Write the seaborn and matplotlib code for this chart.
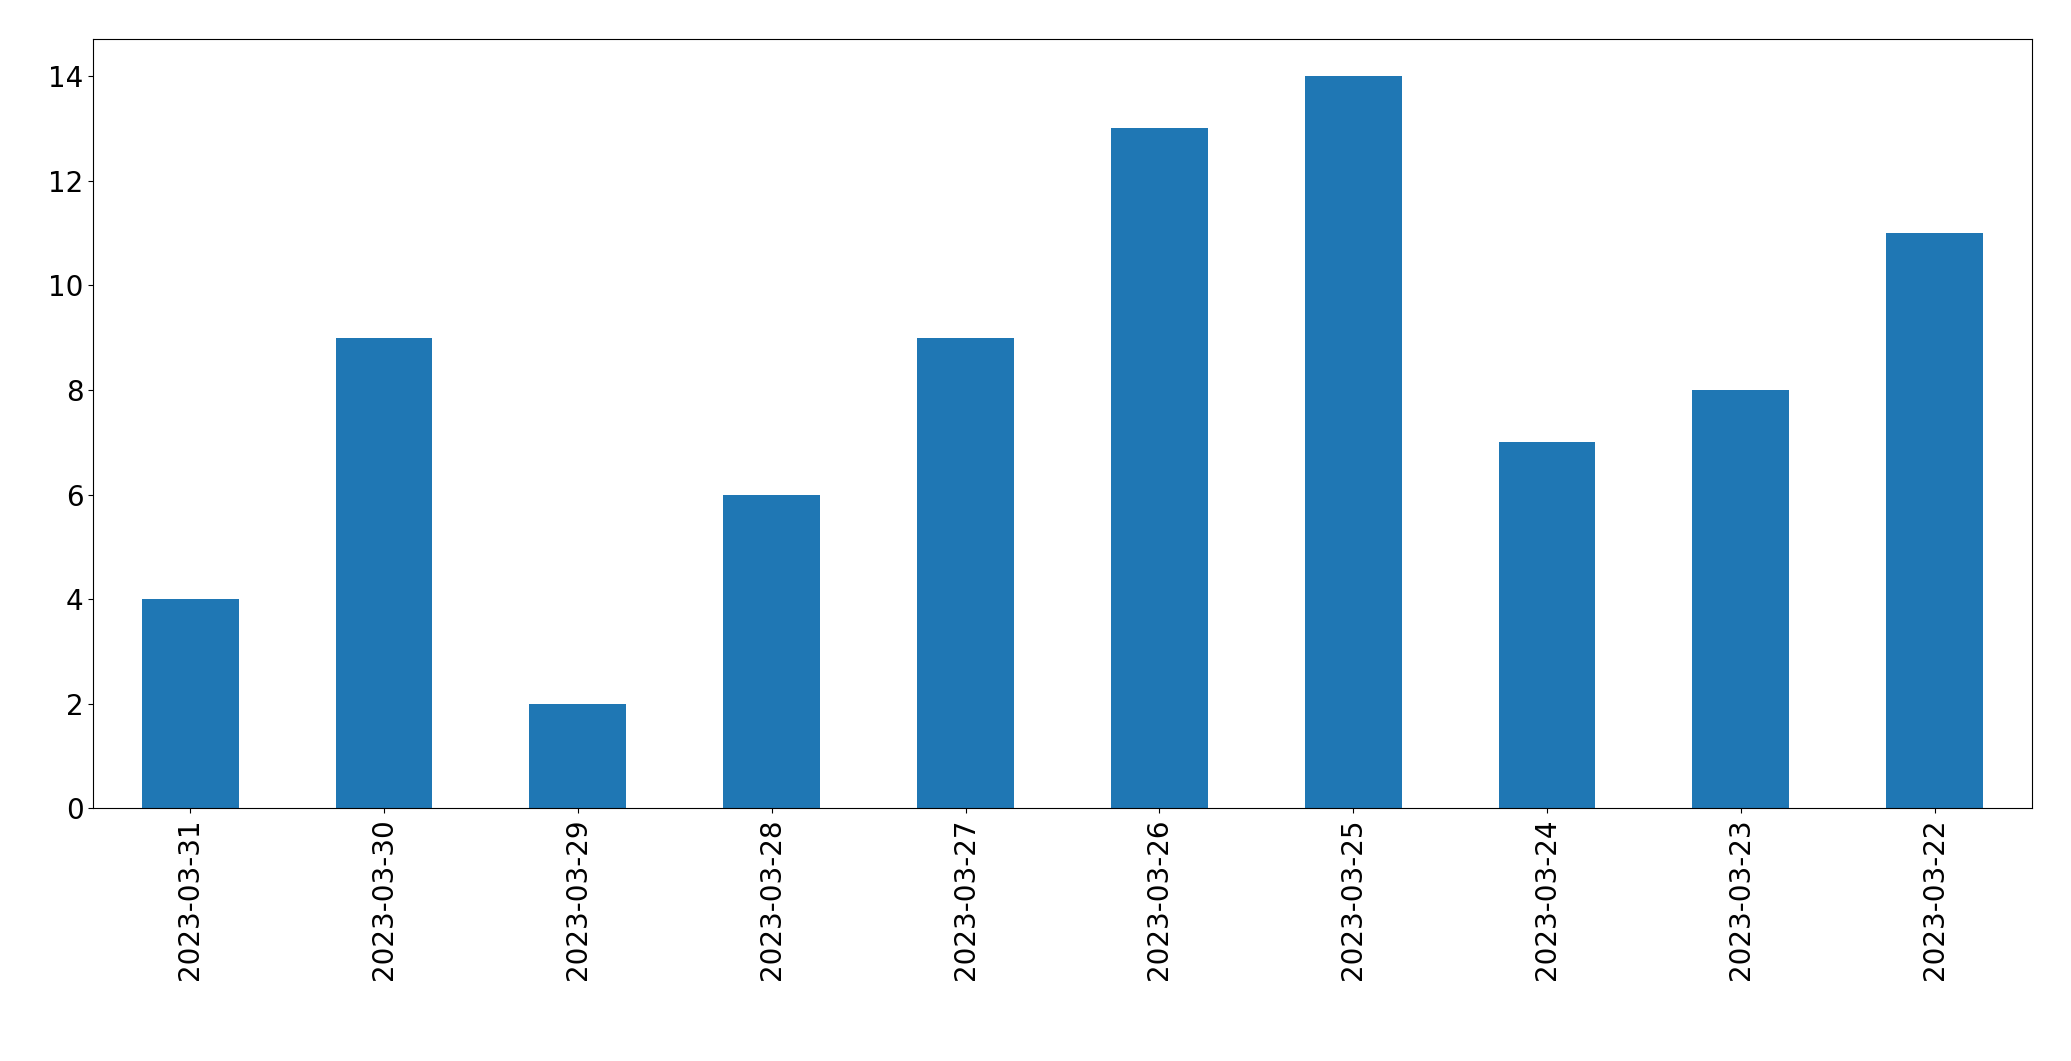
import matplotlib
matplotlib.use("Agg")
import matplotlib.pyplot as plt
import seaborn as sns
import pandas as pd

dates = ["2023-03-31", "2023-03-30", "2023-03-29", "2023-03-28", "2023-03-27",
         "2023-03-26", "2023-03-25", "2023-03-24", "2023-03-23", "2023-03-22"]
counts = [4, 9, 2, 6, 9, 13, 14, 7, 8, 11]

df = pd.DataFrame({"date": dates, "count": counts})

fig = plt.figure(figsize=(20.71, 10.61), dpi=100)
ax = fig.add_axes([0.045, 0.238, 0.936, 0.725])
sns.barplot(data=df, x="date", y="count", order=dates, color="#1f77b4",
            saturation=1, width=0.5, ax=ax)
ax.set_xlabel("")
ax.set_ylabel("")
ax.set_xlim(-0.5, len(dates) - 0.5)
ax.set_ylim(0, 14.7)
ax.tick_params(axis="both", labelsize=20)
ax.tick_params(axis="x", labelrotation=90)
fig.savefig("out.png", dpi=100)
